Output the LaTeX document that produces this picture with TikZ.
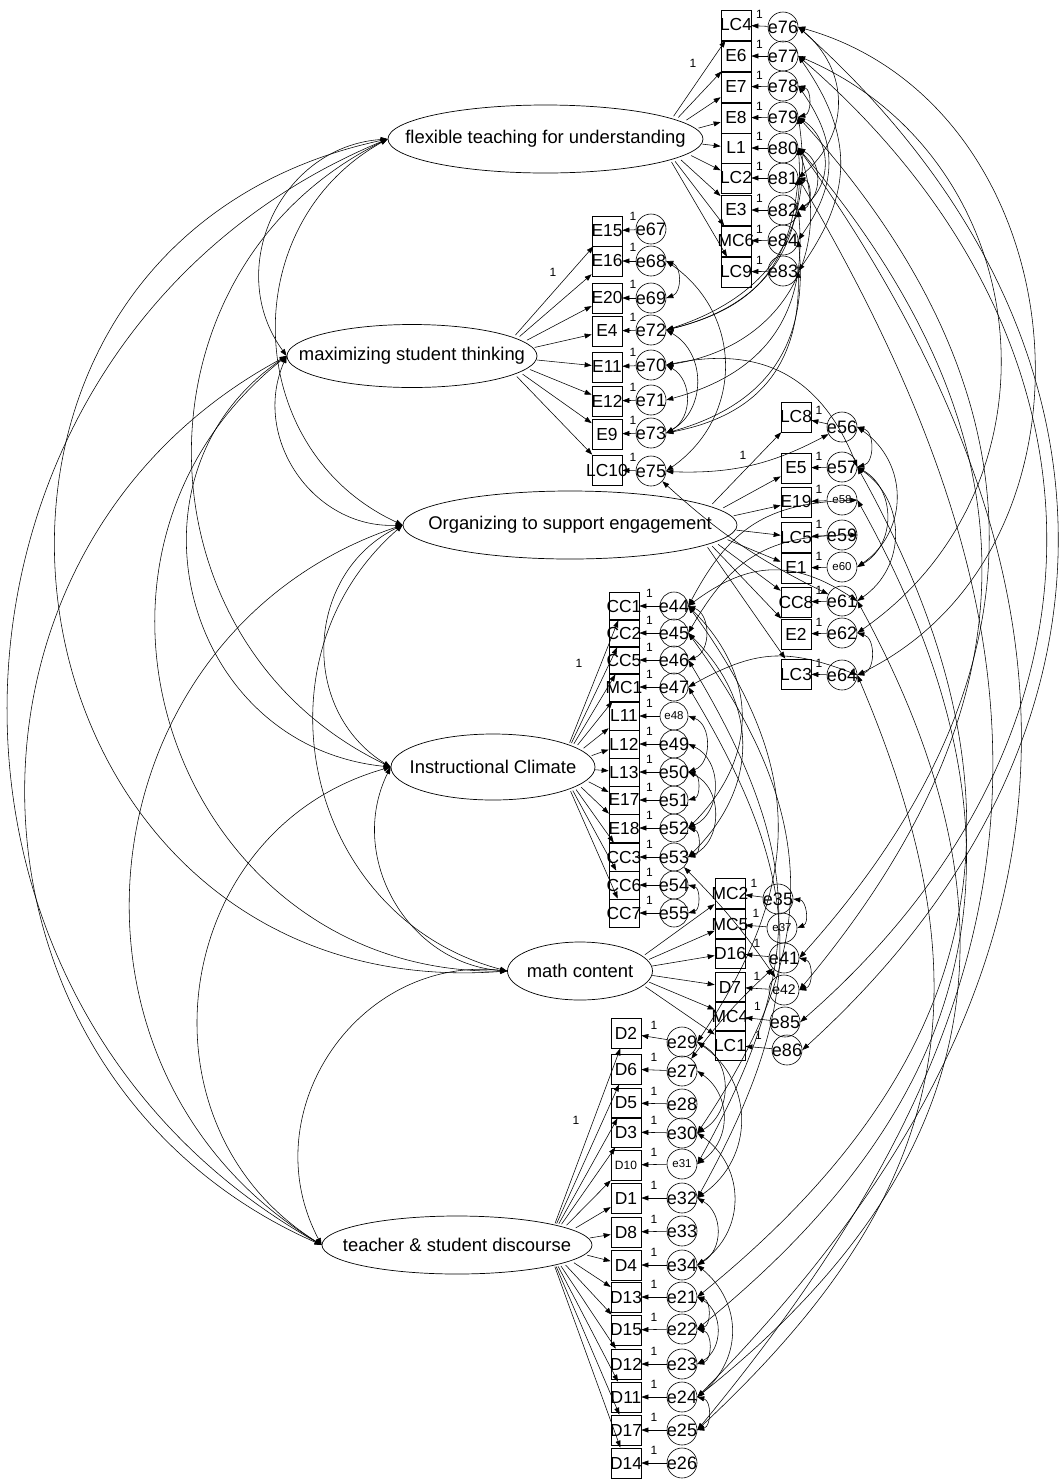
\documentclass[tikz,border=0pt]{standalone}
\usepackage{fontspec}
\setmainfont{Liberation Sans}
\usetikzlibrary{shapes.geometric,arrows.meta}
\newcommand\zw[1]{\makebox[0pt]{#1}}
\tikzset{
 lat/.style={ellipse, draw, line width=0.35pt, inner sep=0pt},
 rcapnode/.style={ellipse, inner sep=0pt},
 lattxt/.style={font=\fontsize{9.2}{10}\selectfont, inner sep=0pt},
 obs/.style={rectangle, draw, line width=0.35pt, minimum width=15pt, minimum height=15pt, inner sep=0pt, font=\fontsize{8.7}{9}\selectfont},
 obsc/.style={obs, minimum height=14pt},
 obss/.style={obs, font=\fontsize{6}{6}\selectfont},
 err/.style={circle, draw, line width=0.3pt, minimum size=15pt, inner sep=0pt, font=\fontsize{9}{9}\selectfont},
 errs/.style={err, font=\fontsize{5.75}{6}\selectfont},
 errm/.style={err, font=\fontsize{7}{7}\selectfont},
 errc/.style={err, minimum size=14pt},
 errcs/.style={errc, font=\fontsize{5.75}{6}\selectfont},
 ld/.style={-{Triangle[length=3.5pt,width=2.5pt]}, line width=0.28pt},
 cv/.style={{Triangle[length=3.5pt,width=2.5pt]}-{Triangle[length=3.5pt,width=2.5pt]}, line width=0.28pt},
 one/.style={font=\fontsize{6}{6}\selectfont, inner sep=0.5pt},
}
\newcommand\fc[4]{\draw[cv] (#1.west) to[bend right=#3, looseness=#4] (#2.west);}
\newcommand\ec[3]{\draw[cv] (#1.east) to[bend left=#3, looseness=1.15] (#2.east);}
\newcommand\ecr[3]{\draw[cv] (#1.east) to[bend right=#3, looseness=1.15] (#2.east);}
\newcommand\es[3]{\draw[cv] (#1) to[bend left=#3] (#2);}
\begin{document}
\begin{tikzpicture}[x=0.5pt,y=-0.5pt]
\useasboundingbox (0,0) rectangle (1063,1479);
% ---------- latent factors
\node[lat, minimum width=157.5pt, minimum height=34pt] (F1) at (545.5,139) {};
\node[lat, minimum width=125pt, minimum height=31.5pt] (F2) at (412,356) {};
\node[lat, minimum width=167pt, minimum height=34pt] (F3) at (570,525) {};
\node[lat, minimum width=102pt, minimum height=33pt] (F4) at (493,767) {};
\node[lat, minimum width=72.5pt, minimum height=29pt] (F5) at (580,971) {};
\node[lat, minimum width=135pt, minimum height=29pt] (F6) at (457,1245) {};
\node[lattxt] at (F1) {flexible teaching for understanding};
\node[lattxt] at (F2) {maximizing student thinking};
\node[lattxt] at (F3) {Organizing to support engagement};
\node[lattxt] at (F4) {Instructional Climate};
\node[lattxt] at (F5) {math content};
\node[lattxt] at (F6) {teacher \& student discourse};
% right caps of the ellipses (start of the loadings)
\node[rcapnode, minimum width=45pt, minimum height=23.8pt] (F1r) at (658,139) {};
\node[rcapnode, minimum width=40pt, minimum height=23.1pt] (F2r) at (497,356) {};
\node[rcapnode, minimum width=45pt, minimum height=23.25pt] (F3r) at (692,525) {};
\node[rcapnode, minimum width=35pt, minimum height=24.9pt] (F4r) at (560,767) {};
\node[rcapnode, minimum width=30pt, minimum height=23.5pt] (F5r) at (622.5,971) {};
\node[rcapnode, minimum width=45pt, minimum height=21.6pt] (F6r) at (547,1245) {};
% ---------- group 1
\foreach \n/\e/\yb/\ye in {LC4/e76/25/27, E6/e77/56/56, E7/e78/87/86, E8/e79/118/117, L1/e80/148/148, LC2/e81/178/178, E3/e82/210/210, MC6/e84/241/240, LC9/e83/272/271}{
 \node[obs] (\n) at (736,\yb) {\zw{\n}};
 \node[err] (\e) at (783,\ye) {\zw{\e}};
 \draw[ld] (\e) -- (\n);
 \draw[ld] (F1r) -- (\n);
 \path (\n.east) -- (\e.west) node[midway, above=3pt, one] {1};
}
% ---------- group 2
\foreach \n/\e/\yb/\ye in {E15/e67/231/229, E16/e68/261/261, E20/e69/298/298, E4/e72/331/330, E11/e70/367/365, E12/e71/401/400, E9/e73/434/433, LC10/e75/470/471}{
 \node[obs] (\n) at (607,\yb) {\zw{\n}};
 \node[err] (\e) at (651,\ye) {\zw{\e}};
 \draw[ld] (\e) -- (\n);
 \draw[ld] (F2r) -- (\n);
 \path (\n.east) -- (\e.west) node[midway, above=4pt, xshift=2pt, one] {1};
}
% ---------- group 3
\foreach \n/\e/\yb/\ye/\s in {LC8/e56/417/427/err, E5/e57/468/467/err, E19/e58/502/500/errs, LC5/e59/537/535/err, E1/e60/568/567/errs, CC8/e61/602/601/err, E2/e62/634/633/err, LC3/e64/674/675/err}{
 \node[obs] (\n) at (796,\yb) {\zw{\n}};
 \node[\s] (\e) at (842,\ye) {\zw{\e}};
 \draw[ld] (\e) -- (\n);
 \draw[ld] (F3r) -- (\n);
 \path (\n.east) -- (\e.west) node[midway, above=3pt, one] {1};
}
% ---------- group 4
\foreach \n/\e/\y/\s in {CC1/e44/606/errc, CC2/e45/633/errc, CC5/e46/660/errc, MC1/e47/687/errc, L11/e48/716/errcs, L12/e49/744/errc, L13/e50/772/errc, E17/e51/800/errc, E18/e52/828/errc, CC3/e53/857/errc, CC6/e54/885/errc, CC7/e55/913/errc}{
 \node[obsc] (\n) at (624,\y) {\zw{\n}};
 \node[\s] (\e) at (674,\y) {\zw{\e}};
 \draw[ld] (\e) -- (\n);
 \draw[ld] (F4r) -- (\n);
 \path (\n.east) -- (\e.west) node[midway, above=3.5pt, one] {1};
}
% ---------- group 5
\foreach \n/\e/\yb/\xe/\ye/\s in {MC2/e35/893/778/899/err, MC5/e37/924/782/928/errs, D16/e41/953/784/958/err, D7/e42/987/784/990/errm, MC4/e85/1016/785/1022/err, LC1/e86/1045/787/1050/err}{
 \node[obs] (\n) at (730,\yb) {\zw{\n}};
 \node[\s] (\e) at (\xe,\ye) {\zw{\e}};
 \draw[ld] (\e) -- (\n);
 \draw[ld] (F5r) -- (\n);
 \path (\n.east) -- (\e.west) node[midway, above=3.5pt, one] {1};
}
% ---------- group 6
\foreach \n/\e/\yb/\ye/\s/\t in {D2/e29/1033/1042/err/obs, D6/e27/1069/1071/err/obs, D5/e28/1103/1104/err/obs, D3/e30/1132/1133/err/obs, D10/e31/1165/1164/errs/obss, D1/e32/1198/1198/err/obs, D8/e33/1232/1231/err/obs, D4/e34/1265/1265/err/obs, D13/e21/1297/1297/err/obs, D15/e22/1330/1329/err/obs, D12/e23/1364/1364/err/obs, D11/e24/1397/1397/err/obs, D17/e25/1430/1430/err/obs, D14/e26/1463/1463/err/obs}{
 \node[\t] (\n) at (626,\yb) {\zw{\n}};
 \node[\s] (\e) at (682,\ye) {\zw{\e}};
 \draw[ld] (\e) -- (\n);
 \draw[ld] (F6r) -- (\n);
 \path (\n.east) -- (\e.west) node[midway, above=3.5pt, one] {1};
}
% ---------- fixed loadings
\node[one] at (693,63) {1};
\node[one] at (553,272) {1};
\node[one] at (743,455) {1};
\node[one] at (579,663) {1};
\node[one] at (576,1120) {1};
% ---------- factor covariances
\fc{F1}{F2}{61}{1.147}
\fc{F1}{F3}{63}{1.171}
\fc{F1}{F4}{64}{1.184}
\fc{F1}{F5}{86}{1.59}
\fc{F1}{F6}{64}{1.184}
\fc{F2}{F3}{58}{1.113}
\fc{F2}{F4}{70}{1.269}
\fc{F2}{F5}{71}{1.285}
\fc{F2}{F6}{64}{1.184}
\fc{F3}{F4}{61}{1.147}
\fc{F3}{F5}{62}{1.159}
\fc{F3}{F6}{65}{1.197}
\fc{F4}{F5}{56}{1.092}
\fc{F4}{F6}{66}{1.21}
\fc{F5}{F6}{62}{1.159}
% ---------- error covariances
% group 1
\ec{e76}{e81}{50}
\ec{e78}{e79}{75}
\ec{e81}{e82}{75}
\ec{e79}{e82}{55}
\ec{e80}{e82}{60}
\ec{e77}{e83}{35}
\ec{e78}{e84}{35}
% group 1 - group 2
\ec{e79}{e72}{40}
\ec{e80}{e72}{40}
\ec{e81}{e72}{35}
\ec{e82}{e71}{40}
\ec{e84}{e73}{40}
\ec{e83}{e73}{40}
\ec{e80}{e70}{50}
% group 2
\ec{e68}{e69}{70}
\ec{e72}{e73}{60}
\ec{e70}{e73}{60}
\ec{e68}{e75}{55}
% group 2 - group 3
\ec{e70}{e57}{40}
\es{e56}{e75}{15}
\es{e75}{e61}{-8}
% group 1 - group 3 / 5 (far right)
\ec{e76}{e64}{69}
\ec{e77}{e62}{61}
\ec{e76}{e86}{48}
\ec{e77}{e85}{49}
\ec{e79}{e41}{42}
\ec{e80}{e42}{40}
% group 3
\ec{e56}{e57}{75}
\ec{e56}{e60}{55}
\ec{e57}{e60}{60}
\ec{e57}{e61}{55}
\ec{e62}{e64}{75}
% group 3 - group 4
\ecr{e58}{e44}{30}
\ecr{e59}{e45}{30}
\ecr{e64}{e47}{25}
\ecr{e61}{e44}{35}
% group 4
\ec{e44}{e46}{70}
\ec{e44}{e52}{45}
\ec{e45}{e53}{45}
\ec{e48}{e50}{70}
\ec{e49}{e52}{65}
\ec{e50}{e51}{75}
\ec{e50}{e53}{65}
\ec{e52}{e53}{75}
\ec{e54}{e55}{75}
% group 4 - 5 - 6
\es{e53}{e42}{5}
\ec{e35}{e37}{75}
\ec{e41}{e42}{75}
\es{e41}{e27}{-5}
\ec{e44}{e29}{35}
\ec{e45}{e30}{35}
\ec{e47}{e32}{30}
\ec{e46}{e31}{30}
% group 3 / 1 - group 6
\ec{e57}{e21}{40}
\ec{e58}{e22}{40}
\ec{e61}{e24}{40}
\ec{e64}{e25}{35}
\ec{e80}{e24}{40}
\ec{e81}{e25}{35}
% group 6
\ec{e29}{e30}{60}
\ec{e29}{e32}{55}
\ec{e27}{e31}{55}
\ec{e30}{e34}{55}
\ec{e32}{e34}{60}
\ec{e21}{e22}{75}
\ec{e21}{e23}{60}
\ec{e22}{e23}{75}
\ec{e24}{e25}{75}
\ec{e34}{e24}{50}
\end{tikzpicture}
\end{document}
